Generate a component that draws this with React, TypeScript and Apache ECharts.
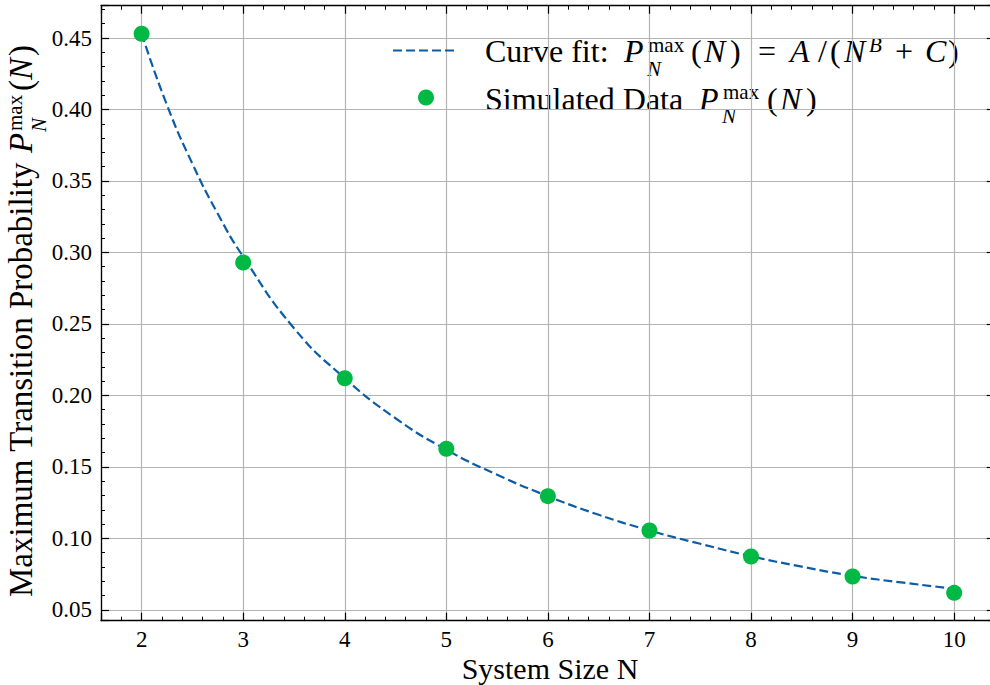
import React, { useEffect, useRef } from "react";
import * as echarts from "echarts";

// ---- data ----
const systemSizes = [2, 3, 4, 5, 6, 7, 8, 9, 10];
const simulatedP = [0.453, 0.293, 0.212, 0.1627, 0.1295, 0.1055, 0.0873, 0.0733, 0.0619];
const fitN = [2, 2.25, 2.5, 2.75, 3, 3.5, 4, 4.5, 5, 5.5, 6, 6.5, 7, 7.5, 8, 8.5, 9, 9.5, 10];
const fitP = [0.453, 0.403, 0.362, 0.327, 0.297, 0.247, 0.212, 0.184, 0.162, 0.1445, 0.1295, 0.1165, 0.1055, 0.0962, 0.0875, 0.0802, 0.0738, 0.069, 0.0648];
const xRange = [1.6, 10.4];
const yRange = [0.0424, 0.4726];
const xTitle = "System Size N";

const FONT = "'Liberation Serif', 'Times New Roman', serif";
const BLUE = "#0C5DA5";
const GREEN = "#00B945";

// token: text, italic, role (sup/sub), x offset in px from the row start, optional size
type Tok = { t: string; it?: boolean; role?: "sup" | "sub"; at: number; size?: number };

function row(toks: Tok[], S: number, scriptS: number) {
  return toks.map((tok) => {
    const size = tok.size ?? (tok.role ? scriptS : S);
    const dy = tok.role === "sup" ? -10 : tok.role === "sub" ? 14 : 0;
    return {
      type: "text",
      x: tok.at,
      y: dy - 0.34 * size,
      style: {
        text: tok.t,
        fontSize: size,
        fontFamily: FONT,
        fontStyle: tok.it ? "italic" : "normal",
        fill: "#000",
        align: "left",
        verticalAlign: "middle",
      },
    };
  });
}

export default function App() {
  const ref = useRef<HTMLDivElement>(null);
  useEffect(() => {
    const el = ref.current!;
    const chart = echarts.init(el, null, { renderer: "svg" });

    const row1 = row(
      [
        { t: "Curve fit:", at: 0 },
        { t: "P", it: true, at: 139 },
        { t: "max", role: "sup", at: 163 },
        { t: "N", it: true, role: "sub", at: 162 },
        { t: "(", at: 206 },
        { t: "N", it: true, at: 219 },
        { t: ")", at: 245 },
        { t: "=", at: 273 },
        { t: "A", it: true, at: 305 },
        { t: "/", at: 333 },
        { t: "(", at: 345 },
        { t: "N", it: true, at: 359 },
        { t: "B", it: true, role: "sup", at: 384 },
        { t: "+", at: 410 },
        { t: "C", it: true, at: 440 },
        { t: ")", at: 463 },
      ],
      32,
      21
    );
    const row2 = row(
      [
        { t: "Simulated Data", at: 0 },
        { t: "P", it: true, at: 214 },
        { t: "max", role: "sup", at: 238 },
        { t: "N", it: true, role: "sub", at: 237 },
        { t: "(", at: 282 },
        { t: "N", it: true, at: 295 },
        { t: ")", at: 321 },
      ],
      32,
      21
    );
    const ylab = row(
      [
        { t: "Maximum Transition Probability", at: 0 },
        { t: "P", it: true, at: 444 },
        { t: "max", role: "sup", at: 466 },
        { t: "N", it: true, role: "sub", at: 465 },
        { t: "(", at: 506 },
        { t: "N", it: true, at: 517 },
        { t: ")", at: 541 },
      ],
      33,
      21
    );

    const xFmt = (v: number) => (Math.abs(v - Math.round(v)) < 1e-6 ? String(Math.round(v)) : "");
    const yFmt = (v: number) => {
      const k = v / 0.05;
      return Math.abs(k - Math.round(k)) < 1e-6 ? v.toFixed(2) : "";
    };
    const tickStyle = { color: "#000", fontFamily: FONT, fontSize: 23 };
    const axisLine = { show: true, onZero: false, lineStyle: { color: "#000", width: 1.3 } };
    const majorTick = { show: true, inside: true, length: 8, lineStyle: { color: "#000", width: 1.2 } };
    const minorTick = { show: true, splitNumber: 5, length: 4, lineStyle: { color: "#000", width: 1 } };
    const grid = { show: true, lineStyle: { color: "#b4b4b4", width: 1.2 } };

    const option: any = {
      animation: false,
      backgroundColor: "#fff",
      grid: {
        left: 101,
        top: 5.7,
        width: 893.8,
        height: 615,
        containLabel: false,
        outerBoundsMode: "none",
      },
      xAxis: [
        {
          type: "value",
          min: xRange[0],
          max: xRange[1],
          splitNumber: 8,
          axisLine,
          axisTick: majorTick,
          minorTick,
          axisLabel: { ...tickStyle, margin: 7, formatter: xFmt, showMinLabel: false, showMaxLabel: false },
          splitLine: grid,
        },
        {
          type: "value",
          position: "top",
          min: xRange[0],
          max: xRange[1],
          splitNumber: 8,
          axisLine,
          axisTick: majorTick,
          minorTick,
          axisLabel: { show: false },
          splitLine: { show: false },
        },
      ],
      yAxis: [
        {
          type: "value",
          min: yRange[0],
          max: yRange[1],
          splitNumber: 8,
          axisLine,
          axisTick: majorTick,
          minorTick,
          axisLabel: { ...tickStyle, margin: 9, formatter: yFmt, showMinLabel: false, showMaxLabel: false },
          splitLine: grid,
        },
        {
          type: "value",
          position: "right",
          min: yRange[0],
          max: yRange[1],
          splitNumber: 8,
          axisLine,
          axisTick: majorTick,
          minorTick,
          axisLabel: { show: false },
          splitLine: { show: false },
        },
      ],
      series: [
        {
          name: "Curve fit",
          type: "line",
          data: fitN.map((n, i) => [n, fitP[i]]),
          smooth: 0.5,
          showSymbol: false,
          symbol: "none",
          lineStyle: { color: BLUE, width: 2.2, type: [9, 4] },
          z: 2,
        },
        {
          name: "Simulated Data",
          type: "scatter",
          data: systemSizes.map((n, i) => [n, simulatedP[i]]),
          symbol: "circle",
          symbolSize: 16,
          itemStyle: { color: GREEN, opacity: 1 },
          z: 3,
        },
      ],
      graphic: [
        {
          type: "line",
          shape: { x1: 393, y1: 50.5, x2: 458, y2: 50.5 },
          style: { stroke: BLUE, lineWidth: 2.2, lineDash: [9, 4] },
          z: 10,
        },
        { type: "circle", shape: { cx: 426, cy: 97.5, r: 8 }, style: { fill: GREEN }, z: 10 },
        { type: "group", x: 485, y: 62, children: row1, z: 10 },
        { type: "group", x: 485, y: 109.5, children: row2, z: 10 },
        { type: "group", x: 32, y: 597, rotation: Math.PI / 2, children: ylab, z: 10 },
        {
          type: "text",
          x: 550,
          y: 668,
          z: 10,
          style: {
            text: xTitle,
            fontSize: 30,
            lineHeight: 28,
            fontFamily: FONT,
            fill: "#000",
            align: "center",
            verticalAlign: "middle",
          },
        },
      ],
    };
    chart.setOption(option);
    return () => chart.dispose();
  }, []);
  return (
    <div
      ref={ref}
      style={{ position: "absolute", left: 0, top: 0, width: 990, height: 685, background: "#fff" }}
    />
  );
}
